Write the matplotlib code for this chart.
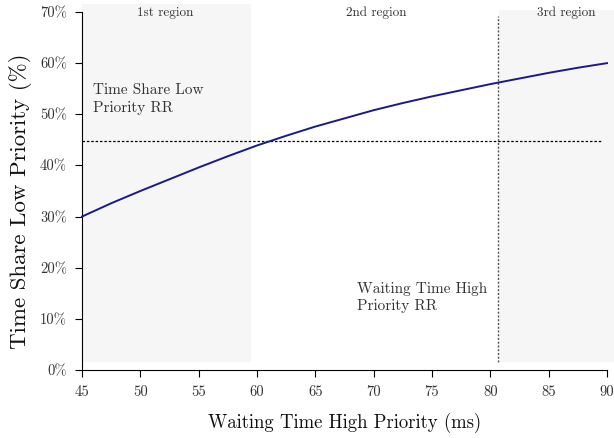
import matplotlib
matplotlib.use("Agg")
import matplotlib.pyplot as plt

plt.rcParams['font.family'] = ['cmr10']
plt.rcParams['mathtext.fontset'] = 'cm'
plt.rcParams['axes.unicode_minus'] = False
plt.rcParams['axes.formatter.use_mathtext'] = True

# Data
wait_ms = [45, 47.5, 50, 52.5, 55, 57.5, 60, 62.5, 65, 67.5, 70, 72.5, 75, 77.5, 80, 82.5, 85, 87.5, 90]
share_pct = [30.0, 32.6, 35.0, 37.3, 39.6, 41.8, 43.9, 45.8, 47.6, 49.2, 50.8, 52.2, 53.5, 54.7, 55.9, 57.0, 58.1, 59.1, 60.0]
region1 = (45, 59.5)
region3 = (80.66, 91)
rr_share = 44.8
rr_wait = 80.66
xticks = [45, 50, 55, 60, 65, 70, 75, 80, 85, 90]
yticks = [0, 10, 20, 30, 40, 50, 60, 70]

fig = plt.figure(figsize=(6.14, 4.38), dpi=100)
ax = fig.add_axes([0.1336, 0.1553, 0.855, 0.8173])

ax.fill_between([region1[0], region1[1]], 1.6, 71.6, color='#f6f6f6', zorder=0, clip_on=False, lw=0)
ax.fill_between([region3[0] + 0.1, region3[1]], 1.6, 70.4, color='#f6f6f6', zorder=0, clip_on=False, lw=0)

ax.plot([45, 89.57], [rr_share, rr_share], color='black', lw=0.9, ls=(0, (2, 1.5)), zorder=2)
ax.plot([rr_wait, rr_wait], [1.6, 69.2], color='#555555', lw=1.0, ls=(0, (1.5, 1.2)), zorder=2)

ax.plot(wait_ms, share_pct, color='#1a1a8a', lw=1.4, zorder=3, clip_on=False)

ax.set_xlim(45, 90)
ax.set_ylim(0, 70)
ax.set_xticks(xticks)
ax.set_xticklabels([str(v) for v in xticks])
ax.set_yticks(yticks)
ax.set_yticklabels([f"{v}%" for v in yticks])
for s in ['top', 'right']:
    ax.spines[s].set_visible(False)
ax.tick_params(direction='out', length=5, labelsize=10.5, colors='black', labelcolor='#333333', pad=6)
ax.set_xlabel('Waiting Time High Priority (ms)', fontsize=13.5, labelpad=10, color='#111111')
ax.set_ylabel('Time Share Low Priority (%)', fontsize=16.5, color='#111111')
ax.yaxis.set_label_coords(-0.095, 0.472)

ax.text(52.1, 69.8, '1st region', fontsize=9.5, ha='center', va='center', color='#333333')
ax.text(70.2, 69.8, '2nd region', fontsize=9.5, ha='center', va='center', color='#333333')
ax.text(86.5, 69.8, '3rd region', fontsize=9.5, ha='center', va='center', color='#333333')
ax.text(45.9, 56.0, 'Time Share Low\nPriority RR', fontsize=11, ha='left', va='top', color='#333333', linespacing=1.3)
ax.text(68.6, 17.3, 'Waiting Time High\nPriority RR', fontsize=11, ha='left', va='top', color='#333333', linespacing=1.3)

fig.savefig('out.png', dpi=100)
